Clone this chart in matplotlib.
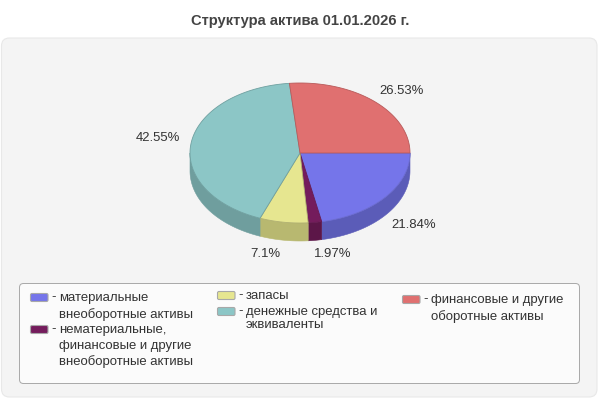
import numpy as np
import matplotlib
matplotlib.use("Agg")
import matplotlib.pyplot as plt
from matplotlib.patches import FancyBboxPatch, Polygon

plt.rcParams["font.family"] = ["Liberation Sans", "DejaVu Sans"]

TITLE = "Структура актива 01.01.2026 г."
shares = [21.84, 1.97, 7.1, 42.55, 26.53]
share_labels = ["21.84%", "1.97%", "7.1%", "42.55%", "26.53%"]
top_colors = ["#7575EA", "#741C5C", "#E6E690", "#8CC6C6", "#E07070"]
side_colors = ["#5B5CB8", "#5C1648", "#B8B870", "#6F9E9E", "#B35959"]
edge_colors = ["#6A6AD0", "#671A52", "#B0B070", "#6FA0A0", "#B85A5A"]
legend_names = [
    ["материальные", "внеоборотные активы"],
    ["нематериальные,", "финансовые и другие", "внеоборотные активы"],
    ["запасы"],
    ["денежные средства и", "эквиваленты"],
    ["финансовые и другие", "оборотные активы"],
]

# pie geometry, pixels
CX, CY, RX, RY, DEPTH = 300, 153, 110, 70, 18
TEXT_COLOR = "#333333"
FS = 9.45

fig = plt.figure(figsize=(6, 4), dpi=100)
ax = fig.add_axes([0, 0, 1, 1])
ax.set_xlim(0, 600)
ax.set_ylim(400, 0)
ax.axis("off")


def rounded(x0, y0, x1, y1, r, face, edge, lw=1.0, z=1):
    ax.add_patch(FancyBboxPatch((x0 + r, y0 + r), x1 - x0 - 2 * r, y1 - y0 - 2 * r,
                                boxstyle=f"round,pad={r},rounding_size={r}",
                                fc=face, ec=edge, lw=lw, zorder=z))


def ellipse_pts(a0, a1, dy=0):
    t = np.radians(np.linspace(a0, a1, max(2, int(abs(a1 - a0)) + 2)))
    return np.column_stack([CX + RX * np.cos(t), CY + dy + RY * np.sin(t)])


# ── panels ──
rounded(1.5, 38, 597, 397, 8, "#F4F4F4", "#E8E8E8", 0.8, 1)
rounded(19.5, 283.5, 579.5, 383.5, 4, "#FBFBFB", "#A8A8A8", 0.7, 2)
ax.text(300, 21, TITLE, ha="center", va="center", fontsize=10.6, fontweight="bold",
        color="#444444", zorder=5)

# ── pie ──
bounds = np.concatenate([[0], np.cumsum(shares)]) / sum(shares) * 360

# outer wall, only the front half shows
for i in range(len(shares)):
    a0, a1 = bounds[i], min(bounds[i + 1], 180)
    if a0 >= 180:
        continue
    top = ellipse_pts(a0, a1)
    bottom = ellipse_pts(a0, a1, DEPTH)[::-1]
    ax.add_patch(Polygon(np.vstack([top, bottom]), closed=True, fc=side_colors[i],
                         ec=side_colors[i], lw=0.4, zorder=3))

for i in range(len(shares)):
    pts = np.vstack([[CX, CY], ellipse_pts(bounds[i], bounds[i + 1])])
    ax.add_patch(Polygon(pts, closed=True, fc=top_colors[i], ec=edge_colors[i],
                         lw=0.6, zorder=4, joinstyle="round"))

label_pos = [(414, 225), (333, 254), (265, 254), (158, 138), (402, 90.5)]
for (lx, ly), text in zip(label_pos, share_labels):
    ax.text(lx, ly, text, ha="center", va="center", fontsize=FS, color=TEXT_COLOR, zorder=5)

# ── legend ──
swatch_pos = [(30.5, 293.5), (30.5, 325.5), (217.5, 291.5), (217.5, 307.5), (402.5, 295.5)]
line_gaps = [15.8, 15.8, 15.8, 12.3, 15.8]
for i, names in enumerate(legend_names):
    sx, sy = swatch_pos[i]
    rounded(sx, sy, sx + 17.5, sy + 8, 1.5, top_colors[i], "#A8A8A8", 0.8, 3)
    ax.text(sx + 23, sy + 3.5, "-", ha="center", va="center", fontsize=FS, color=TEXT_COLOR, zorder=5)
    for j, line in enumerate(names):
        ax.text(sx + 28.5, sy + 4.8 + j * line_gaps[i], line, ha="left", va="center",
                fontsize=FS, color=TEXT_COLOR, zorder=5)

fig.savefig("out.png", dpi=100)
